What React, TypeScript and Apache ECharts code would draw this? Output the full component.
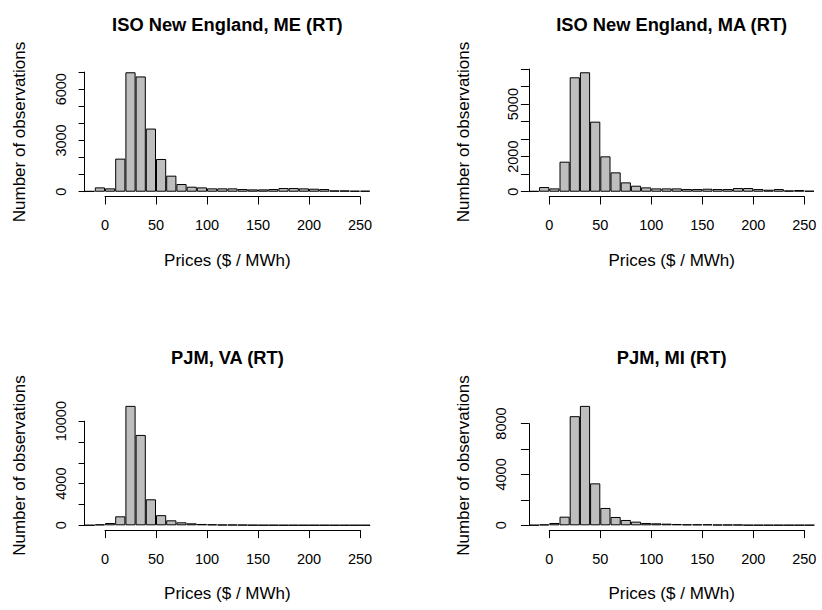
import React, { useEffect, useRef } from "react";
import * as echarts from "echarts";

// ---- data ----
const BIN_STARTS = [-20, -10, 0, 10, 20, 30, 40, 50, 60, 70, 80, 90, 100, 110, 120, 130, 140, 150, 160, 170, 180, 190, 200, 210, 220, 230, 240, 250];
const BIN_WIDTH = 10;
const CATEGORIES = BIN_STARTS.map((b) => `${b} to ${b + BIN_WIDTH}`);

const TITLES = ["ISO New England, ME (RT)", "ISO New England, MA (RT)", "PJM, VA (RT)", "PJM, MI (RT)"];

const ME_COUNTS = [40, 254, 196, 1936, 6990, 6746, 3696, 1916, 940, 450, 293, 254, 196, 196, 196, 157, 137, 137, 157, 215, 215, 196, 176, 157, 78, 78, 59, 59];
const MA_COUNTS = [40, 267, 190, 1714, 6533, 6819, 4000, 2019, 1105, 533, 343, 248, 190, 190, 190, 152, 152, 171, 152, 152, 210, 210, 152, 114, 152, 76, 95, 57];
const VA_COUNTS = [15, 90, 224, 865, 11470, 8680, 2500, 975, 480, 290, 190, 130, 96, 64, 64, 50, 32, 25, 25, 20, 20, 20, 20, 20, 15, 15, 15, 15];
const MI_COUNTS = [20, 70, 184, 680, 8580, 9390, 3300, 1365, 656, 420, 289, 184, 157, 131, 105, 79, 79, 79, 52, 52, 52, 26, 26, 26, 26, 26, 26, 26];

const X_TICK_MIN = 0;
const X_TICK_MAX = 250;
const X_TICK_STEP = 50;

const Y_TICK_MAX = [7000, 7000, 10000, 8000];
const Y_TICK_STEP = [1000, 1000, 2000, 2000];
const Y_TICK_LABELS = [
  [0, 3000, 6000],
  [0, 2000, 5000],
  [0, 4000, 10000],
  [0, 4000, 8000],
];

const X_TITLE = "Prices ($ / MWh)";
const Y_TITLE = "Number of observations";

const ALL_COUNTS = [ME_COUNTS, MA_COUNTS, VA_COUNTS, MI_COUNTS];

// ---- layout / style ----
const FONT = "'Liberation Sans', Arial, Helvetica, sans-serif";
const PLOT_BOXES = [
  { left: 84.6, top: 67.5, yLabelMargin: 16, yTickLen: 6 },
  { left: 528.9, top: 67.5, yLabelMargin: 8, yTickLen: 8 },
  { left: 84.6, top: 401.1, yLabelMargin: 16, yTickLen: 6 },
  { left: 528.9, top: 401.1, yLabelMargin: 20, yTickLen: 8 },
];
const PLOT_W = 285.6;
const PLOT_H = 129;

function buildOption() {
  const grid: any[] = [];
  const xAxis: any[] = [];
  const yAxis: any[] = [];
  const series: any[] = [];
  const graphic: any[] = [];

  const xMin = BIN_STARTS[0];
  const xMax = BIN_STARTS[BIN_STARTS.length - 1] + BIN_WIDTH;

  ALL_COUNTS.forEach((counts, i) => {
    const box = PLOT_BOXES[i];
    const M = Math.max(...counts);
    const yMin = -0.04 * M;
    const yMax = 1.04 * M;
    const yPx = (v: number) => box.top + PLOT_H - ((v - yMin) / (yMax - yMin)) * PLOT_H;
    const xPx = (v: number) => box.left + ((v - xMin) / (xMax - xMin)) * PLOT_W;

    // data grid
    const gData = grid.length;
    grid.push({ left: box.left, top: box.top, width: PLOT_W, height: PLOT_H, outerBoundsMode: "none", containLabel: false });
    const xData = xAxis.length;
    xAxis.push({ type: "category", gridIndex: gData, data: CATEGORIES, show: false, boundaryGap: true });
    const yData = yAxis.length;
    yAxis.push({ type: "value", gridIndex: gData, min: yMin, max: yMax, show: false });
    series.push({
      type: "bar",
      name: TITLES[i],
      xAxisIndex: xData,
      yAxisIndex: yData,
      data: counts,
      barWidth: "100%",
      barCategoryGap: 0,
      silent: true,
      itemStyle: { color: "#BEBEBE", borderColor: "#000000", borderWidth: 1 },
    });

    // x axis grid (ticks 0..250)
    const gX = grid.length;
    const x0 = xPx(X_TICK_MIN);
    const x1 = xPx(X_TICK_MAX);
    grid.push({ left: x0, top: box.top + PLOT_H - 10, width: x1 - x0, height: 10, outerBoundsMode: "none", containLabel: false });
    xAxis.push({
      type: "value",
      gridIndex: gX,
      min: X_TICK_MIN,
      max: X_TICK_MAX,
      interval: X_TICK_STEP,
      position: "bottom",
      axisLine: { show: true, onZero: false, lineStyle: { color: "#000", width: 1 } },
      axisTick: { show: true, length: 8, lineStyle: { color: "#000", width: 1 } },
      axisLabel: { show: true, margin: 21, color: "#000", fontSize: 14.5, fontFamily: FONT },
      splitLine: { show: false },
    });
    yAxis.push({ type: "value", gridIndex: gX, show: false });

    // y axis grid (ticks 0..tickMax)
    const gY = grid.length;
    const yTop = yPx(Y_TICK_MAX[i]);
    const yBot = yPx(0);
    grid.push({ left: box.left, top: yTop, width: 10, height: yBot - yTop, outerBoundsMode: "none", containLabel: false });
    xAxis.push({ type: "value", gridIndex: gY, show: false });
    const shown = Y_TICK_LABELS[i];
    yAxis.push({
      type: "value",
      gridIndex: gY,
      min: 0,
      max: Y_TICK_MAX[i],
      interval: Y_TICK_STEP[i],
      position: "left",
      axisLine: { show: true, onZero: false, lineStyle: { color: "#000", width: 1 } },
      axisTick: { show: true, length: box.yTickLen, lineStyle: { color: "#000", width: 1 } },
      axisLabel: {
        show: true,
        rotate: 90,
        margin: box.yLabelMargin,
        color: "#000",
        fontSize: 14.5,
        fontFamily: FONT,
        formatter: (v: number) => (shown.indexOf(v) >= 0 ? String(v) : ""),
      },
      splitLine: { show: false },
    });

    // texts
    const cx = box.left + PLOT_W / 2;
    const cy = box.top + PLOT_H / 2;
    graphic.push({
      type: "text",
      x: cx,
      y: box.top - 43.5,
      style: { text: TITLES[i], font: `bold 18.3px ${FONT}`, fill: "#000", align: "center", verticalAlign: "middle" },
    });
    graphic.push({
      type: "text",
      x: cx,
      y: box.top + PLOT_H + 63.5,
      style: { text: X_TITLE, font: `17px ${FONT}`, fill: "#000", align: "center", verticalAlign: "middle" },
    });
    graphic.push({
      type: "text",
      x: box.left - 65.5,
      y: cy,
      rotation: Math.PI / 2,
      style: { text: Y_TITLE, font: `17px ${FONT}`, fill: "#000", align: "center", verticalAlign: "middle" },
    });
  });

  return {
    animation: false,
    backgroundColor: "#ffffff",
    grid,
    xAxis,
    yAxis,
    series,
    graphic,
  };
}

export default function App() {
  const ref = useRef<HTMLDivElement>(null);
  useEffect(() => {
    const chart = echarts.init(ref.current as HTMLDivElement, null, { renderer: "svg" });
    chart.setOption(buildOption() as any);
    return () => chart.dispose();
  }, []);
  return <div ref={ref} style={{ position: "absolute", left: 0, top: 0, width: 822, height: 610 }} />;
}
